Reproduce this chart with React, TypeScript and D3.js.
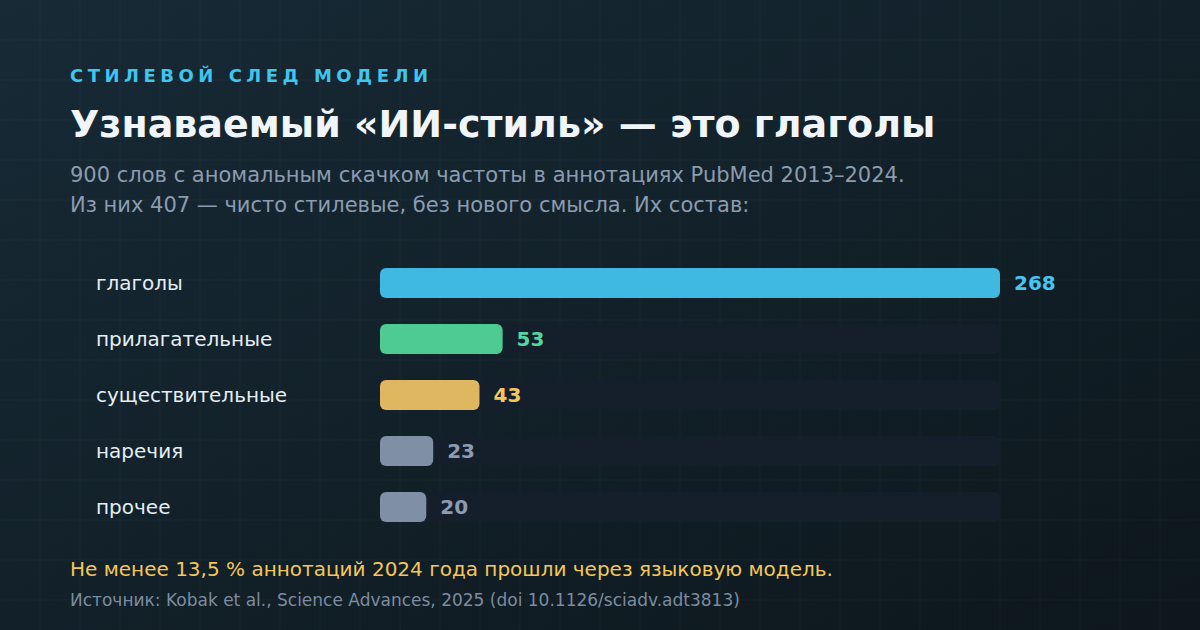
import * as React from "react"
import * as d3 from "d3"

const categories = ["глаголы", "прилагательные", "существительные", "наречия", "прочее"]
const counts = [268, 53, 43, 23, 20]
const barColors = ["#3fb8e2", "#4ecb92", "#dfb760", "#7f8fa5", "#7f8fa5"]
const labelColors = ["#45c6f0", "#55d6a0", "#f4c75b", "#8c9bb0", "#8c9bb0"]

const kicker = "СТИЛЕВОЙ СЛЕД МОДЕЛИ"
const title = "Узнаваемый «ИИ-стиль» — это глаголы"
const subtitle = [
  "900 слов с аномальным скачком частоты в аннотациях PubMed 2013–2024.",
  "Из них 407 — чисто стилевые, без нового смысла. Их состав:",
]
const note = "Не менее 13,5 % аннотаций 2024 года прошли через языковую модель."
const source = "Источник: Kobak et al., Science Advances, 2025 (doi 10.1126/sciadv.adt3813)"

const W = 1200
const H = 630
const FONT = "'DejaVu Sans', sans-serif"

export default function App() {
  const svgRef = React.useRef<SVGSVGElement>(null)

  React.useEffect(() => {
    if (!svgRef.current) return
    const svg = d3.select(svgRef.current)
    svg.selectAll("*").remove()

    // background gradient
    const defs = svg.append("defs")
    const grad = defs
      .append("linearGradient")
      .attr("id", "bg")
      .attr("x1", "0")
      .attr("y1", "0")
      .attr("x2", "1")
      .attr("y2", "1")
    grad.append("stop").attr("offset", "0%").attr("stop-color", "#172a36")
    grad.append("stop").attr("offset", "100%").attr("stop-color", "#0d171c")
    svg.append("rect").attr("width", W).attr("height", H).attr("fill", "url(#bg)")

    // grid
    const grid = svg.append("g").attr("stroke", "#ffffff").attr("stroke-opacity", 0.032)
    d3.range(40, W, 40).forEach((x) => {
      grid.append("line").attr("x1", x).attr("x2", x).attr("y1", 0).attr("y2", H)
    })
    d3.range(40, H, 40).forEach((y) => {
      grid.append("line").attr("x1", 0).attr("x2", W).attr("y1", y).attr("y2", y)
    })

    // header
    svg
      .append("text")
      .attr("x", 70)
      .attr("y", 82)
      .attr("font-family", FONT)
      .attr("font-weight", "bold")
      .attr("font-size", 18)
      .attr("letter-spacing", 4.5)
      .attr("fill", "#3ec5f0")
      .text(kicker)

    svg
      .append("text")
      .attr("x", 70)
      .attr("y", 137)
      .attr("font-family", FONT)
      .attr("font-weight", "bold")
      .attr("font-size", 38)
      .attr("fill", "#f0f5fa")
      .text(title)

    svg
      .append("g")
      .selectAll("text")
      .data(subtitle)
      .join("text")
      .attr("x", 70)
      .attr("y", (_, i) => 182 + i * 30)
      .attr("font-family", FONT)
      .attr("font-size", 21)
      .attr("fill", "#8c9cb0")
      .text((d) => d)

    // bars
    const x = d3.scaleLinear().domain([0, d3.max(counts)!]).range([0, 620])
    const y = d3.scaleBand().domain(categories).range([255, 535]).paddingInner(0.4643).paddingOuter(0.232)
    const x0 = 380
    const rows = svg
      .append("g")
      .selectAll("g")
      .data(categories)
      .join("g")
      .attr("transform", (d) => `translate(0,${y(d)})`)

    rows
      .append("rect")
      .attr("x", x0)
      .attr("width", x.range()[1])
      .attr("height", y.bandwidth())
      .attr("rx", 6)
      .attr("fill", "#151f2c")

    rows
      .append("rect")
      .attr("x", x0)
      .attr("width", (_, i) => x(counts[i]))
      .attr("height", y.bandwidth())
      .attr("rx", 6)
      .attr("fill", (_, i) => barColors[i])

    rows
      .append("text")
      .attr("x", 96)
      .attr("y", y.bandwidth() / 2)
      .attr("dy", "0.35em")
      .attr("font-family", FONT)
      .attr("font-size", 20)
      .attr("fill", "#e6edf3")
      .text((d) => d)

    rows
      .append("text")
      .attr("x", (_, i) => x0 + x(counts[i]) + 14)
      .attr("y", y.bandwidth() / 2)
      .attr("dy", "0.35em")
      .attr("font-family", FONT)
      .attr("font-weight", "bold")
      .attr("font-size", 20)
      .attr("fill", (_, i) => labelColors[i])
      .text((_, i) => counts[i])

    // footer
    svg
      .append("text")
      .attr("x", 70)
      .attr("y", 576)
      .attr("font-family", FONT)
      .attr("font-size", 20)
      .attr("fill", "#f4c75b")
      .text(note)

    svg
      .append("text")
      .attr("x", 70)
      .attr("y", 606)
      .attr("font-family", FONT)
      .attr("font-size", 17)
      .attr("fill", "#7d8ca0")
      .text(source)
  }, [])

  return (
    <div style={{ position: "fixed", left: 0, top: 0 }}>
      <svg ref={svgRef} width={W} height={H} viewBox={`0 0 ${W} ${H}`} style={{ display: "block" }} />
    </div>
  )
}
